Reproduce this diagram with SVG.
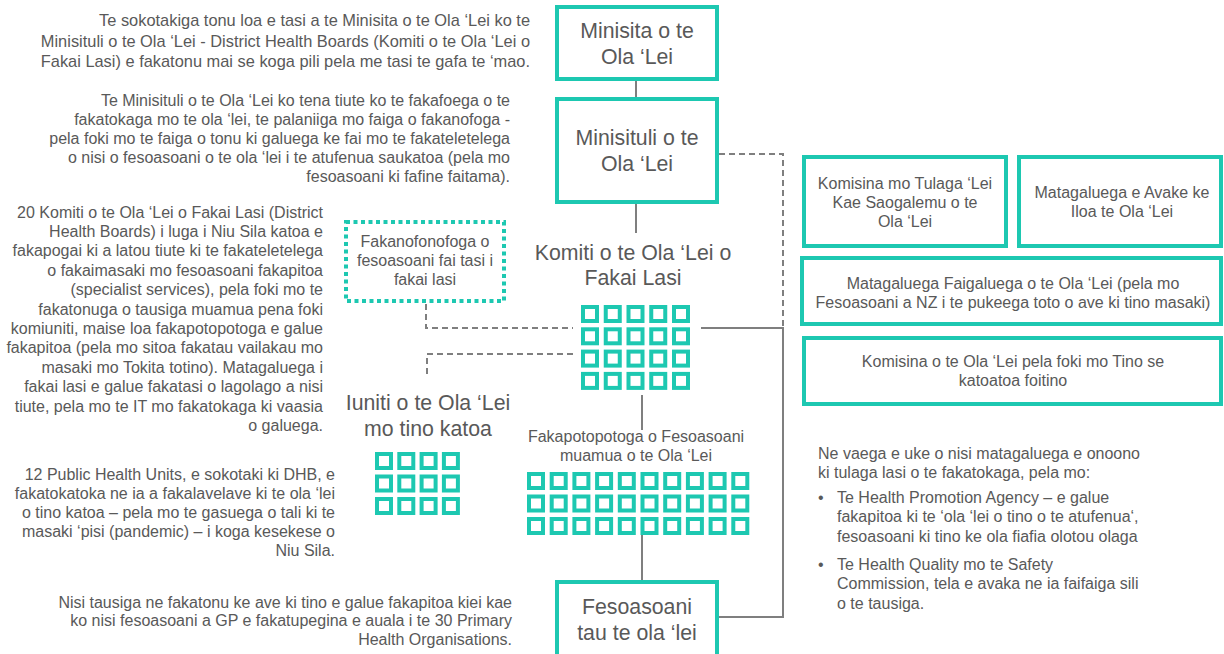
<svg xmlns="http://www.w3.org/2000/svg" xmlns:xlink="http://www.w3.org/1999/xlink" width="1224" height="654" viewBox="0 0 1224 654">
<style>
text{font-family:"Liberation Sans",Arial,sans-serif;fill:#595959}
.p{font-size:16px}
.p1{font-size:16.4px}
.r{text-anchor:end}
.c{text-anchor:middle}
.t{font-size:21.3px}
.box{fill:#fff;stroke:#1DC8B1;stroke-width:4}
.dot{fill:none;stroke:#1DC8B1;stroke-width:4;stroke-dasharray:4 3.5}
.sq{fill:#fff;stroke:#1DC8B1;stroke-width:4}
.ln{fill:none;stroke:#7f7f7f;stroke-width:2}
.ds{fill:none;stroke:#7f7f7f;stroke-width:2;stroke-dasharray:6 4}
</style>
<defs>
<rect id="sq" class="sq" width="14" height="14"/>
</defs>
<rect width="1224" height="654" fill="#fff"/>

<g id="connectors">
<path class="ln" d="M636 81V97"/>
<path class="ln" d="M636 204V233"/>
<path class="ds" d="M719 154H783V328"/>
<path class="ln" d="M701 328H783V617H719"/>
<path class="ds" d="M426 304V328H573"/>
<path class="ds" d="M573 354H427V377"/>
<path class="ln" d="M642 395V430"/>
<path class="ln" d="M642 535V581"/>
</g>

<g id="para1" class="p1">
<text class="r" x="530" y="26">Te sokotakiga tonu loa e tasi a te Minisita o te Ola ‘Lei ko te</text>
<text class="r" x="530" y="46.5">Minisituli o te Ola ‘Lei - District Health Boards (Komiti o te Ola ‘Lei o</text>
<text class="r" x="530" y="67">Fakai Lasi) e fakatonu mai se koga pili pela me tasi te gafa te ‘mao.</text>
</g>
<g id="para2" class="p">
<text class="r" x="510" y="105.5">Te Minisituli o te Ola ‘Lei ko tena tiute ko te fakafoega o te</text>
<text class="r" x="510" y="124.5">fakatokaga mo te ola ‘lei, te palaniiga mo faiga o fakanofoga -</text>
<text class="r" x="510" y="143.5">pela foki mo te faiga o tonu ki galuega ke fai mo te fakateletelega</text>
<text class="r" x="510" y="162.5">o nisi o fesoasoani o te ola ‘lei i te atufenua saukatoa (pela mo</text>
<text class="r" x="510" y="181.5">fesoasoani ki fafine faitama).</text>
</g>
<g id="para3" class="p">
<text class="r" x="323" y="217.5">20 Komiti o te Ola ‘Lei o Fakai Lasi (District</text>
<text class="r" x="323" y="236.9">Health Boards) i luga i Niu Sila katoa e</text>
<text class="r" x="323" y="256.3">fakapogai ki a latou tiute ki te fakateletelega</text>
<text class="r" x="323" y="275.7">o fakaimasaki mo fesoasoani fakapitoa</text>
<text class="r" x="323" y="295.1">(specialist services), pela foki mo te</text>
<text class="r" x="323" y="314.5">fakatonuga o tausiga muamua pena foki</text>
<text class="r" x="323" y="333.9">komiuniti, maise loa fakapotopotoga e galue</text>
<text class="r" x="323" y="353.3">fakapitoa (pela mo sitoa fakatau vailakau mo</text>
<text class="r" x="323" y="372.7">masaki mo Tokita totino). Matagaluega i</text>
<text class="r" x="323" y="392.1">fakai lasi e galue fakatasi o lagolago a nisi</text>
<text class="r" x="323" y="411.5">tiute, pela mo te IT mo fakatokaga ki vaasia</text>
<text class="r" x="323" y="430.9">o galuega.</text>
</g>
<g id="para4" class="p">
<text class="r" x="335" y="479.5">12 Public Health Units, e sokotaki ki DHB, e</text>
<text class="r" x="335" y="498.7">fakatokatoka ne ia a fakalavelave ki te ola ‘lei</text>
<text class="r" x="335" y="517.9">o tino katoa – pela mo te gasuega o tali ki te</text>
<text class="r" x="335" y="537.1">masaki ‘pisi (pandemic) – i koga kesekese o</text>
<text class="r" x="335" y="556.3">Niu Sila.</text>
</g>
<g id="para5" class="p">
<text class="r" x="512" y="607.5">Nisi tausiga ne fakatonu ke ave ki tino e galue fakapitoa kiei kae</text>
<text class="r" x="512" y="626">ko nisi fesoasoani a GP e fakatupegina e auala i te 30 Primary</text>
<text class="r" x="512" y="644.5">Health Organisations.</text>
</g>

<g id="minisita">
<rect class="box" x="557" y="7" width="160" height="72"/>
<text class="t c" x="637" y="38">Minisita o te</text>
<text class="t c" x="637" y="64">Ola ‘Lei</text>
</g>
<g id="minisituli">
<rect class="box" x="557" y="99" width="160" height="103"/>
<text class="t c" x="637" y="145">Minisituli o te</text>
<text class="t c" x="637" y="171">Ola ‘Lei</text>
</g>

<g id="fakanofonofoga">
<rect class="dot" x="346" y="222" width="158" height="79"/>
<text class="p c" x="425" y="247">Fakanofonofoga o</text>
<text class="p c" x="425" y="266">fesoasoani fai tasi i</text>
<text class="p c" x="425" y="285">fakai lasi</text>
</g>

<g id="dhb">
<text class="t c" x="633" y="260">Komiti o te Ola ‘Lei o</text>
<text class="t c" x="633" y="285">Fakai Lasi</text>
<g transform="translate(583,307)">
<use xlink:href="#sq" x="0" y="0"/><use xlink:href="#sq" x="22.75" y="0"/><use xlink:href="#sq" x="45.5" y="0"/><use xlink:href="#sq" x="68.25" y="0"/><use xlink:href="#sq" x="91" y="0"/>
<use xlink:href="#sq" x="0" y="22.3"/><use xlink:href="#sq" x="22.75" y="22.3"/><use xlink:href="#sq" x="45.5" y="22.3"/><use xlink:href="#sq" x="68.25" y="22.3"/><use xlink:href="#sq" x="91" y="22.3"/>
<use xlink:href="#sq" x="0" y="44.6"/><use xlink:href="#sq" x="22.75" y="44.6"/><use xlink:href="#sq" x="45.5" y="44.6"/><use xlink:href="#sq" x="68.25" y="44.6"/><use xlink:href="#sq" x="91" y="44.6"/>
<use xlink:href="#sq" x="0" y="66.9"/><use xlink:href="#sq" x="22.75" y="66.9"/><use xlink:href="#sq" x="45.5" y="66.9"/><use xlink:href="#sq" x="68.25" y="66.9"/><use xlink:href="#sq" x="91" y="66.9"/>
</g>
</g>

<g id="iuniti">
<text class="t c" x="428" y="410">Iuniti o te Ola ‘Lei</text>
<text class="t c" x="428" y="436">mo tino katoa</text>
<g transform="translate(377,454)">
<use xlink:href="#sq" x="0" y="0"/><use xlink:href="#sq" x="22.3" y="0"/><use xlink:href="#sq" x="44.6" y="0"/><use xlink:href="#sq" x="66.9" y="0"/>
<use xlink:href="#sq" x="0" y="22.5"/><use xlink:href="#sq" x="22.3" y="22.5"/><use xlink:href="#sq" x="44.6" y="22.5"/><use xlink:href="#sq" x="66.9" y="22.5"/>
<use xlink:href="#sq" x="0" y="45"/><use xlink:href="#sq" x="22.3" y="45"/><use xlink:href="#sq" x="44.6" y="45"/><use xlink:href="#sq" x="66.9" y="45"/>
</g>
</g>

<g id="fakapotopotoga">
<text class="p c" x="636" y="442">Fakapotopotoga o Fesoasoani</text>
<text class="p c" x="636" y="461">muamua o te Ola ‘Lei</text>
<g transform="translate(529,474)">
<use xlink:href="#sq" x="0" y="0"/><use xlink:href="#sq" x="22.7" y="0"/><use xlink:href="#sq" x="45.4" y="0"/><use xlink:href="#sq" x="68.1" y="0"/><use xlink:href="#sq" x="90.8" y="0"/><use xlink:href="#sq" x="113.5" y="0"/><use xlink:href="#sq" x="136.2" y="0"/><use xlink:href="#sq" x="158.9" y="0"/><use xlink:href="#sq" x="181.6" y="0"/><use xlink:href="#sq" x="204.3" y="0"/>
<use xlink:href="#sq" x="0" y="22.5"/><use xlink:href="#sq" x="22.7" y="22.5"/><use xlink:href="#sq" x="45.4" y="22.5"/><use xlink:href="#sq" x="68.1" y="22.5"/><use xlink:href="#sq" x="90.8" y="22.5"/><use xlink:href="#sq" x="113.5" y="22.5"/><use xlink:href="#sq" x="136.2" y="22.5"/><use xlink:href="#sq" x="158.9" y="22.5"/><use xlink:href="#sq" x="181.6" y="22.5"/><use xlink:href="#sq" x="204.3" y="22.5"/>
<use xlink:href="#sq" x="0" y="45"/><use xlink:href="#sq" x="22.7" y="45"/><use xlink:href="#sq" x="45.4" y="45"/><use xlink:href="#sq" x="68.1" y="45"/><use xlink:href="#sq" x="90.8" y="45"/><use xlink:href="#sq" x="113.5" y="45"/><use xlink:href="#sq" x="136.2" y="45"/><use xlink:href="#sq" x="158.9" y="45"/><use xlink:href="#sq" x="181.6" y="45"/><use xlink:href="#sq" x="204.3" y="45"/>
</g>
</g>

<g id="fesoasoani">
<rect class="box" x="557" y="582" width="160" height="90"/>
<text class="t c" x="637" y="614">Fesoasoani</text>
<text class="t c" x="637" y="640">tau te ola ‘lei</text>
</g>

<g id="komisina-tulaga">
<rect class="box" x="804" y="157" width="202" height="89"/>
<text class="p c" x="905" y="188.5">Komisina mo Tulaga ‘Lei</text>
<text class="p c" x="905" y="207.5">Kae Saogalemu o te</text>
<text class="p c" x="905" y="226.5">Ola ‘Lei</text>
</g>
<g id="avake">
<rect class="box" x="1019" y="157" width="202" height="89"/>
<text class="p c" x="1122" y="198">Matagaluega e Avake ke</text>
<text class="p c" x="1122" y="217">Iloa te Ola ‘Lei</text>
</g>
<g id="faigaluega">
<rect class="box" x="802" y="258" width="419" height="66"/>
<text class="p c" x="1013" y="288.5">Matagaluega Faigaluega o te Ola ‘Lei (pela mo</text>
<text class="p c" x="1013" y="308">Fesoasoani a NZ i te pukeega toto o ave ki tino masaki)</text>
</g>
<g id="komisina-tino">
<rect class="box" x="804" y="338" width="417" height="66"/>
<text class="p c" x="1013" y="367">Komisina o te Ola ‘Lei pela foki mo Tino se</text>
<text class="p c" x="1013" y="386">katoatoa foitino</text>
</g>

<g id="notes" class="p">
<text x="818" y="458.5">Ne vaega e uke o nisi matagaluega e onoono</text>
<text x="818" y="477.5">ki tulaga lasi o te fakatokaga, pela mo:</text>
<text x="818" y="502.5">•</text>
<text x="837" y="502.5">Te Health Promotion Agency – e galue</text>
<text x="837" y="522">fakapitoa ki te ‘ola ‘lei o tino o te atufenua‘,</text>
<text x="837" y="541.5">fesoasoani ki tino ke ola fiafia olotou olaga</text>
<text x="818" y="569.5">•</text>
<text x="837" y="569.5">Te Health Quality mo te Safety</text>
<text x="837" y="589">Commission, tela e avaka ne ia faifaiga sili</text>
<text x="837" y="608.5">o te tausiga.</text>
</g>
</svg>
